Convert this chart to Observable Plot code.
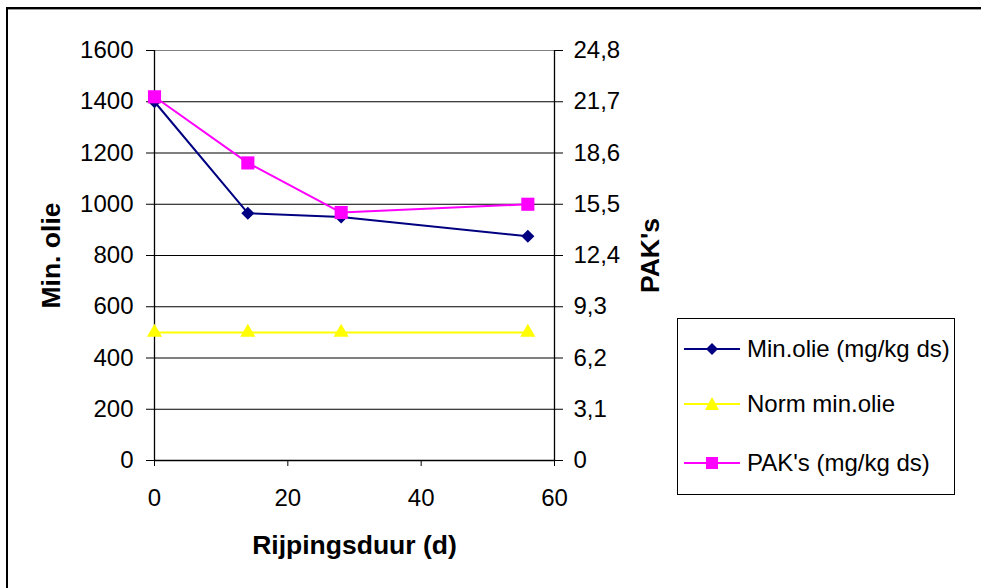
<!DOCTYPE html>
<html>
<head>
<meta charset="utf-8">
<script src="https://cdn.jsdelivr.net/npm/d3@7"></script>
<script src="https://cdn.jsdelivr.net/npm/@observablehq/plot@0.6"></script>
<style>
  html, body { margin: 0; padding: 0; background: #fff; }
  #wrap { position: relative; width: 981px; height: 588px; overflow: hidden; font-family: "Liberation Sans", Arial, sans-serif; }
  #frame { position: absolute; left: 6px; top: 7px; width: 1000px; height: 620px; border: 2px solid #000; box-shadow: 0 1px 0 #999 inset; pointer-events: none; }
  #legend { position: absolute; left: 677px; top: 318px; width: 276px; height: 175px; border: 1px solid #000; background: #fff; }
  .row { position: absolute; left: 6px; height: 30px; display: flex; align-items: center; font-size: 24px; color: #000; white-space: nowrap; }
  .row svg { margin-right: 7px; }
</style>
</head>
<body>
<div id="wrap">
  <div id="chart"></div>
  <div id="frame"></div>
  <div id="legend"></div>
</div>
<script>
// ---- data ----
const days = [0, 14, 28, 56];
const minOlie = [1400, 965, 950, 875];          // mg/kg ds (left axis)
const normMinOlie = [500, 500, 500, 500];       // mg/kg ds (left axis)
const paks = [22.0, 18.0, 15.0, 15.5];          // mg/kg ds (right axis)
const leftTicks = [0, 200, 400, 600, 800, 1000, 1200, 1400, 1600];
const rightTicks = [0, 3.1, 6.2, 9.3, 12.4, 15.5, 18.6, 21.7, 24.8];
const xTicks = [0, 20, 40, 60];
const seriesNames = ["Min.olie (mg/kg ds)", "Norm min.olie", "PAK's (mg/kg ds)"];
const seriesColors = ["#000080", "#FFFF00", "#FF00FF"];

const leftMax = 1600, rightMax = 24.8;
const toLeft = v => v * leftMax / rightMax;

const minRows = days.map((d, i) => ({day: d, value: minOlie[i]}));
const normRows = days.map((d, i) => ({day: d, value: normMinOlie[i]}));
const pakRows = days.map((d, i) => ({day: d, value: toLeft(paks[i])}));

const fmtComma = v => String(v).replace(".", ",");

const chart = Plot.plot({
  width: 981,
  height: 588,
  marginLeft: 154,
  marginRight: 427,
  marginTop: 50,
  marginBottom: 128,
  style: {fontFamily: "'Liberation Sans', Arial, sans-serif", fontSize: "24px", color: "#000", background: "transparent", overflow: "visible"},
  x: {domain: [0, 60]},
  y: {domain: [0, leftMax]},
  marks: [
    Plot.ruleY(leftTicks.slice(0, -1), {stroke: "#000", strokeWidth: 1}),
    Plot.ruleY([leftMax], {stroke: "#808080", strokeWidth: 1}),
    Plot.ruleX([0, 60], {stroke: "#000", strokeWidth: 1.3}),
    Plot.ruleY([0], {stroke: "#000", strokeWidth: 1.3}),
    Plot.axisY({anchor: "left", ticks: leftTicks, tickFormat: d => String(d), tickSize: 8, tickPadding: 13, label: null, stroke: "#000", fill: "#000"}),
    Plot.axisY({anchor: "right", ticks: rightTicks.map(toLeft), tickFormat: v => fmtComma(Math.round(v * rightMax / leftMax * 10) / 10), tickSize: 8, tickPadding: 11, label: null, stroke: "#000", fill: "#000"}),
    Plot.axisX({anchor: "bottom", ticks: xTicks, tickFormat: d => String(d), tickSize: 6, tickPadding: 22, label: null, stroke: "#000", fill: "#000"}),
    Plot.axisY({anchor: "left", ticks: [], tickSize: 0, label: "Min. olie", labelAnchor: "center", labelOffset: 113, labelArrow: "none", fontWeight: "bold", fontSize: 26.5, fill: "#000"}),
    Plot.axisY({anchor: "right", ticks: [], tickSize: 0, label: "PAK's", labelAnchor: "center", labelOffset: 104, labelArrow: "none", fontWeight: "bold", fontSize: 26.5, fill: "#000"}),
    Plot.axisX({anchor: "bottom", ticks: [], tickSize: 0, label: "Rijpingsduur (d)", labelAnchor: "center", labelOffset: 93, labelArrow: "none", fontWeight: "bold", fontSize: 26.5, fill: "#000"}),
    Plot.line(normRows, {x: "day", y: "value", stroke: seriesColors[1], strokeWidth: 2}),
    Plot.line(minRows, {x: "day", y: "value", stroke: seriesColors[0], strokeWidth: 2}),
    Plot.line(pakRows, {x: "day", y: "value", stroke: seriesColors[2], strokeWidth: 2}),
    Plot.dot(normRows, {x: "day", y: "value", symbol: "triangle", r: 5.6, fill: seriesColors[1], stroke: "none"}),
    Plot.dot(minRows, {x: "day", y: "value", symbol: "diamond2", r: 5.9, fill: seriesColors[0], stroke: "none"}),
    Plot.dot(pakRows, {x: "day", y: "value", symbol: "square", r: 7.4, fill: seriesColors[2], stroke: "none"})
  ]
});
document.getElementById("chart").appendChild(chart);

// ---- legend ----
const legend = document.getElementById("legend");
const rowTops = [15, 70, 129];
const markerSvg = [
  c => `<polygon points="28,1 34,7 28,13 22,7" fill="${c}"/>`,
  c => `<polygon points="28,0 35,13 21,13" fill="${c}"/>`,
  c => `<rect x="22" y="1" width="12" height="12" fill="${c}"/>`
];
seriesNames.forEach((name, i) => {
  const row = document.createElement("div");
  row.className = "row";
  row.style.top = rowTops[i] + "px";
  row.innerHTML = `<svg width="56" height="14"><line x1="0" x2="56" y1="7" y2="7" stroke="${seriesColors[i]}" stroke-width="2"/>${markerSvg[i](seriesColors[i])}</svg><span>${name}</span>`;
  legend.appendChild(row);
});
</script>
</body>
</html>
